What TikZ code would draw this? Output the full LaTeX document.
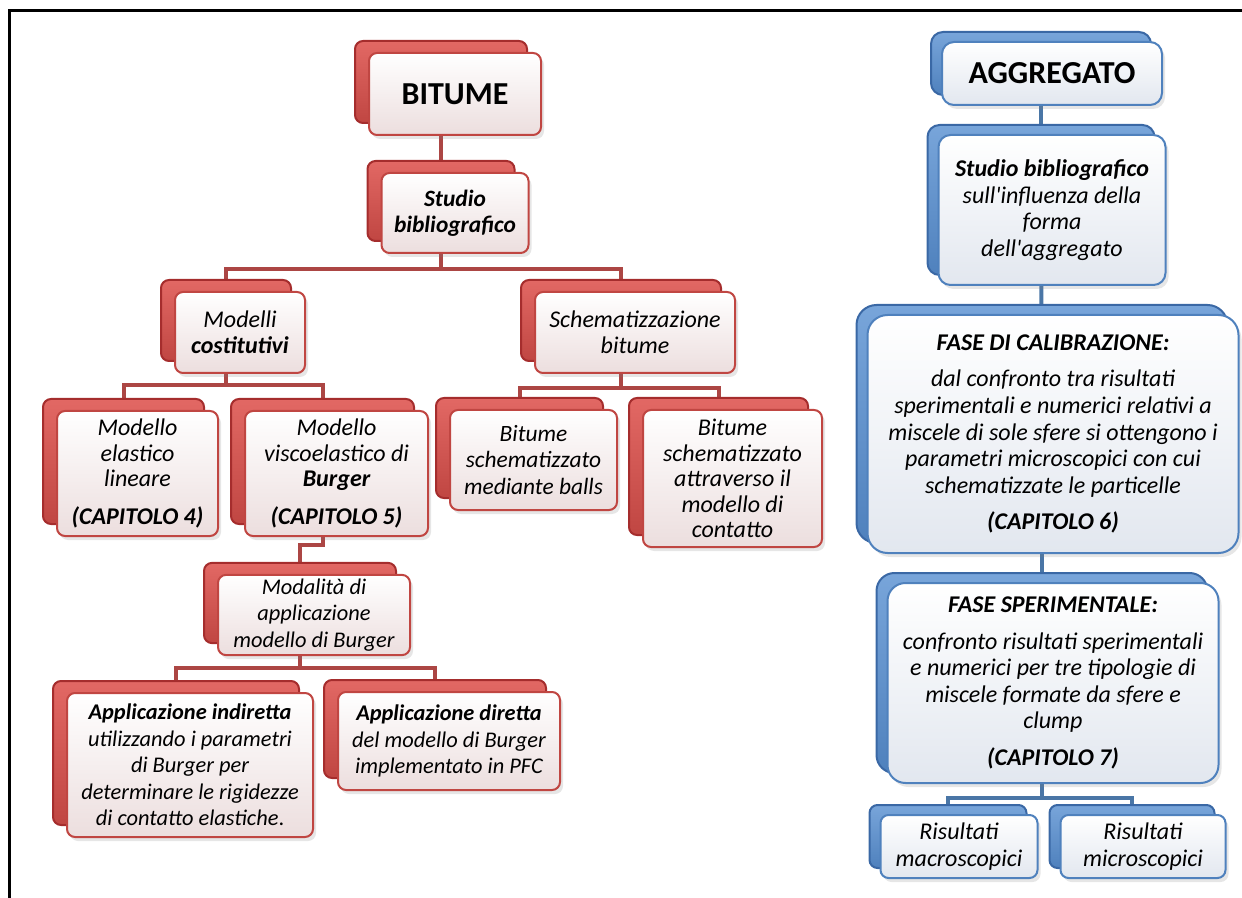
\documentclass[tikz,border=0pt]{standalone}
\usepackage{fontspec}
\setmainfont{Carlito}
\usetikzlibrary{shadows,backgrounds}

\definecolor{redback}{RGB}{192,70,66}
\definecolor{reddark}{RGB}{165,45,45}
\definecolor{redlight}{RGB}{226,104,100}
\definecolor{redface}{RGB}{236,222,222}
\definecolor{redline}{RGB}{172,70,68}
\definecolor{blueback}{RGB}{79,129,189}
\definecolor{bluedark}{RGB}{58,104,165}
\definecolor{bluelight}{RGB}{120,165,218}
\definecolor{blueface}{RGB}{226,231,239}
\definecolor{blueline}{RGB}{74,118,166}

\tikzset{
  redbox/.style={draw=redback, line width=1pt, rounded corners=4pt,
    top color=white, bottom color=redface, align=center, inner sep=2pt,
    font=\fontsize{12}{12.8}\selectfont\itshape,
    drop shadow={opacity=0.2, shadow xshift=1.5pt, shadow yshift=-2pt},
    copy shadow={shadow xshift=-7pt, shadow yshift=6pt, draw=reddark,
      top color=redlight, bottom color=redback}},
  bluebox/.style={draw=blueback, line width=1pt, rounded corners=6pt,
    top color=white, bottom color=blueface, align=center, inner sep=2pt,
    font=\fontsize{12}{13.3}\selectfont\itshape,
    drop shadow={opacity=0.2, shadow xshift=1.5pt, shadow yshift=-2pt},
    copy shadow={shadow xshift=-5.5pt, shadow yshift=5pt, draw=bluedark,
      top color=bluelight, bottom color=blueback}},
  smalltext/.style={font=\fontsize{11.2}{13.2}\selectfont\itshape},
  redconn/.style={draw=redline, line width=2pt},
  blueconn/.style={draw=blueline, line width=2pt},
  title/.style={font=\fontsize{16}{19}\selectfont\bfseries}
}

\begin{document}
\begin{tikzpicture}[x=0.5pt, y=-0.5pt]
\useasboundingbox (0,0) rectangle (1242,898);
\draw[line width=1.5pt] (9,898) -- (9,11) -- (1242,11);

% bitume
\node (bitume) at (455,94) [redbox, title, minimum width=86pt,
    minimum height=41pt] {BITUME};
\path (bitume)+(0,119) node (studioB) [redbox, minimum width=73.5pt,
    minimum height=40pt, font=\fontsize{11.7}{13}\selectfont\itshape]
    {\textbf{Studio}\\\textbf{bibliografico}};

\path (studioB)+(-215,119.5) node (modelli) [redbox, minimum width=65pt,
    minimum height=40.5pt] {Modelli\\\textbf{costitutivi}};
\path (studioB)+(180,119.5) node (schem) [redbox, minimum width=100pt,
    minimum height=40.5pt] {Schematizzazione\\bitume};

\path (modelli)+(-102.5,141) node (elastico) [redbox, minimum width=80.5pt,
    minimum height=62.5pt]
    {Modello\\elastico\\lineare\\[6pt]\textbf{(CAPITOLO 4)}};
\path (modelli)+(96.5,141) node (burger) [redbox, minimum width=91.5pt,
    minimum height=62.5pt]
    {Modello\\viscoelastico di\\\textbf{Burger}\\[6pt]\textbf{(CAPITOLO 5)}};

\path (schem)+(-101.5,127.5) node (balls) [redbox, minimum width=83.5pt,
    minimum height=50pt, font=\fontsize{11.7}{13.3}\selectfont\itshape]
    {Bitume\\schematizzato\\mediante balls};
\path (schem)+(97.5,146) node (contatto) [redbox, minimum width=89.5pt,
    minimum height=68.5pt]
    {Bitume\\schematizzato\\attraverso il\\modello di\\contatto};

\path (burger)+(-22.5,141.5) node (modalita) [redbox, smalltext,
    minimum width=96pt, minimum height=40pt]
    {Modalità di\\applicazione\\modello di Burger};

\path (modalita)+(-124,150) node (indiretta) [redbox, smalltext,
    minimum width=123pt, minimum height=72pt]
    {\textbf{Applicazione indiretta}\\utilizzando i parametri\\di Burger per\\
    determinare le rigidezze\\di contatto elastiche\textup{.}};
\path (modalita)+(135,126) node (diretta) [redbox, smalltext,
    minimum width=111pt, minimum height=49pt]
    {\textbf{Applicazione diretta}\\del modello di Burger\\implementato in PFC};

% aggregato
\node (aggregato) at (1052,73.5) [bluebox, title, minimum width=110pt,
    minimum height=31.5pt] {AGGREGATO};
\path (aggregato)+(0,136.5) node (studioA) [bluebox, minimum width=113.5pt,
    minimum height=75pt]
    {\textbf{Studio bibliografico}\\sull\textquotesingle influenza della\\forma\\
    dell\textquotesingle aggregato};
\path (studioA)+(1,224) node (calib) [bluebox, rounded corners=10pt,
    minimum width=185.5pt, minimum height=119pt]
    {\textbf{FASE DI CALIBRAZIONE:}\\[5pt]dal confronto tra risultati\\
    sperimentali e numerici relativi a\\miscele di sole sfere si ottengono i\\
    parametri microscopici con cui\\schematizzate le particelle\\[5pt]
    \textbf{(CAPITOLO 6)}};
\path (calib)+(0,249) node (sperim) [bluebox, rounded corners=9pt,
    minimum width=165.5pt, minimum height=100pt]
    {\textbf{FASE SPERIMENTALE:}\\[5pt]confronto risultati sperimentali\\
    e numerici per tre tipologie di\\miscele formate da sfere e\\clump\\[5pt]
    \textbf{(CAPITOLO 7)}};

\path (sperim)+(-94,163.5) node (macro) [bluebox, rounded corners=4pt,
    minimum width=78.5pt, minimum height=31.5pt] {Risultati\\macroscopici};
\path (sperim)+(90,163.5) node (micro) [bluebox, rounded corners=4pt,
    minimum width=82.5pt, minimum height=31.5pt] {Risultati\\microscopici};

% connettori dietro ai box
\begin{pgfonlayer}{background}
\path[redconn] ([xshift=-7pt]bitume.center) -- ([xshift=-7pt]studioB.center);
\path[redconn] ([xshift=-7pt]studioB.center)
    -- ([xshift=-7pt,yshift=-7.5pt]studioB.south) -| ([xshift=-7pt]modelli.center);
\path[redconn] ([xshift=-7pt,yshift=-7.5pt]studioB.south) -| ([xshift=-7pt]schem.center);
\path[redconn] ([xshift=-7pt]modelli.center)
    -- ([xshift=-7pt,yshift=-5.5pt]modelli.south) -| ([xshift=-7pt]elastico.center);
\path[redconn] ([xshift=-7pt,yshift=-5.5pt]modelli.south) -| ([xshift=-7pt]burger.center);
\path[redconn] ([xshift=-7pt]schem.center)
    -- ([xshift=-7pt,yshift=-7pt]schem.south) -| ([xshift=-7pt]balls.center);
\path[redconn] ([xshift=-7pt,yshift=-7pt]schem.south) -| ([xshift=-7pt]contatto.center);
\path[redconn] ([xshift=-7pt]burger.center)
    -- ([xshift=-7pt,yshift=-4pt]burger.south) -| ([xshift=-7pt]modalita.center);
\path[redconn] ([xshift=-7pt]modalita.center)
    -- ([xshift=-7pt,yshift=-6pt]modalita.south) -| ([xshift=-7pt]indiretta.center);
\path[redconn] ([xshift=-7pt,yshift=-6pt]modalita.south) -| ([xshift=-7pt]diretta.center);

\path[blueconn] ([xshift=-5.5pt]aggregato.center) -- ([xshift=-5.5pt]studioA.center);
\path[blueconn] ([xshift=-5.5pt]studioA.center) -- ([xshift=-5.5pt]calib.center);
\path[blueconn] ([xshift=-5.5pt]calib.center) -- ([xshift=-5.5pt]sperim.center);
\path[blueconn] ([xshift=-5.5pt]sperim.center)
    -- ([xshift=-5.5pt,yshift=-7pt]sperim.south) -| ([xshift=-5.5pt]macro.center);
\path[blueconn] ([xshift=-5.5pt,yshift=-7pt]sperim.south) -| ([xshift=-5.5pt]micro.center);
\end{pgfonlayer}
\end{tikzpicture}
\end{document}
